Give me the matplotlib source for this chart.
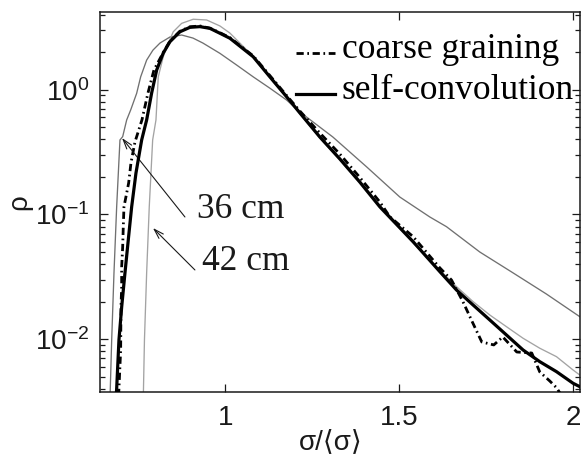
import numpy as np
import matplotlib
matplotlib.use("Agg")
import matplotlib.pyplot as plt
from matplotlib.legend_handler import HandlerLine2D

# ---------------- data ----------------
# 36 cm measurement (dark grey)
A_x = [0.6687, 0.6736, 0.6802, 0.6879, 0.6974, 0.7052, 0.7167, 0.7282, 0.7454, 0.7569,
       0.7741, 0.7922, 0.8124, 0.8411, 0.8747, 0.9072, 0.9359, 0.9848, 1.0328, 1.0805,
       1.1284, 1.1764, 1.2147, 1.3095, 1.4072, 1.5020, 1.5882, 1.6362, 1.7319, 1.8276,
       1.9236, 2.0193, 2.03]
A_y = [0.0033, 0.00986, 0.0340, 0.115, 0.396, 0.421, 0.573, 0.689, 0.937, 1.27,
       1.73, 2.08, 2.37, 2.65, 2.75, 2.60, 2.37, 1.96, 1.58, 1.27,
       1.03, 0.828, 0.664, 0.418, 0.240, 0.138, 0.0955, 0.0798, 0.0500, 0.0340,
       0.0230, 0.01515, 0.0148]

# 42 cm measurement (light grey)
B_x = [0.7644, 0.7678, 0.7741, 0.7816, 0.7914, 0.8009, 0.8075, 0.8218, 0.8362, 0.8506,
       0.8747, 0.9080, 0.9466, 0.9848, 1.0135, 1.0566, 1.0805, 1.1284, 1.1764, 1.2147,
       1.2721, 1.3296, 1.3871, 1.4445, 1.5402, 1.6170, 1.6649, 1.7126, 1.7606, 1.8086,
       1.8563, 1.9043, 1.9523, 2.0000, 2.0193, 2.03]
B_y = [0.0033, 0.00986, 0.0340, 0.115, 0.396, 0.573, 1.27, 1.84, 2.36, 2.92,
       3.41, 3.68, 3.63, 3.25, 2.85, 2.16, 1.82, 1.25, 0.87, 0.64,
       0.41, 0.272, 0.177, 0.112, 0.059, 0.0359, 0.0264, 0.0200, 0.01563, 0.01259,
       0.01017, 0.00846, 0.00724, 0.00566, 0.00516, 0.0050]

# coarse graining (dash-dot)
C_x = [0.6935, 0.6994, 0.7003, 0.7023, 0.7023, 0.7052, 0.7069, 0.7089, 0.7224, 0.7290,
       0.7405, 0.7606, 0.7779, 0.7951, 0.8218, 0.8411, 0.8698, 0.8986, 0.9273, 0.9560,
       0.9848, 1.0135, 1.0805, 1.1284, 1.1764, 1.2147, 1.2721, 1.3296, 1.3871, 1.4445,
       1.4730, 1.5402, 1.6170, 1.6506, 1.6830, 1.7118, 1.7376, 1.7721, 1.7980, 1.8382,
       1.8813, 1.9043, 1.9330, 1.9532, 1.9675]
C_y = [0.0035, 0.0082, 0.0181, 0.0262, 0.0379, 0.0549, 0.0794, 0.115, 0.179, 0.259,
       0.381, 0.573, 0.943, 1.44, 1.99, 2.46, 2.95, 3.20, 3.25, 3.12,
       2.87, 2.62, 1.87, 1.30, 0.90, 0.675, 0.450, 0.305, 0.198, 0.126,
       0.096, 0.0664, 0.0373, 0.0298, 0.0201, 0.01349, 0.00950, 0.00899, 0.01042, 0.00789,
       0.00774, 0.00546, 0.00462, 0.00406, 0.0035]

# self-convolution (thick solid)
D_x = [0.686, 0.688, 0.6945, 0.7023, 0.7118, 0.7213, 0.7310, 0.7434, 0.7598, 0.7741,
       0.7885, 0.8029, 0.8218, 0.8411, 0.8698, 0.8986, 0.9273, 0.9560, 0.9848, 1.0135,
       1.0805, 1.1284, 1.1764, 1.2147, 1.2721, 1.3296, 1.3871, 1.4445, 1.5402, 1.6170,
       1.6649, 1.7126, 1.7606, 1.8086, 1.8563, 1.9043, 1.9523, 2.0000, 2.0193, 2.03]
D_y = [0.0033, 0.00406, 0.00986, 0.0181, 0.0340, 0.0625, 0.115, 0.215, 0.396, 0.573,
       0.943, 1.44, 1.97, 2.43, 2.92, 3.17, 3.21, 3.11, 2.84, 2.59,
       1.84, 1.27, 0.880, 0.652, 0.418, 0.279, 0.182, 0.1155, 0.0605, 0.0348,
       0.0248, 0.0188, 0.01426, 0.0108, 0.00819, 0.0066, 0.00549, 0.00443, 0.00416, 0.0040]

legend_labels = ["coarse graining", "self-convolution"]
annot_labels = ["36 cm", "42 cm"]
annot_text_xy = [(0.9178, 0.0933), (0.9322, 0.0359)]
annot_tail_xy = [(0.8842, 0.0955), (0.9129, 0.0359)]
annot_tip_xy = [(0.7032, 0.4107), (0.7922, 0.0779)]
x_ticks = [1, 1.5, 2]
x_ticklabels = ["1", "1.5", "2"]

# ---------------- style ----------------
plt.rcParams['font.family'] = ['Liberation Sans', 'DejaVu Sans']
plt.rcParams['mathtext.fontset'] = 'custom'
plt.rcParams['mathtext.rm'] = 'Liberation Sans'
plt.rcParams['mathtext.it'] = 'Liberation Sans:italic'
plt.rcParams['mathtext.default'] = 'regular'

fig = plt.figure(figsize=(5.81, 4.55), dpi=100)
ax = fig.add_axes([100/581, 1 - 391.7/455, 480/581, 380/455])

ax.plot(A_x, A_y, color='#707070', lw=0.95, zorder=2)
ax.plot(B_x, B_y, color='#a3a3a3', lw=0.95, zorder=2)
lc, = ax.plot(C_x, C_y, color='black', lw=2.0, linestyle=(0, (2.6, 1.3, 0.6, 1.3)),
              zorder=3, label=legend_labels[0])
ld, = ax.plot(D_x, D_y, color='black', lw=2.3, zorder=4, label=legend_labels[1])

ax.set_yscale('log')
ax.set_xlim(0.64, 2.02)
ax.set_ylim(0.00379, 4.23)
ax.set_xticks(x_ticks)
ax.set_xticklabels(x_ticklabels)
ax.xaxis.set_minor_locator(matplotlib.ticker.NullLocator())

ax.tick_params(which='both', direction='in', top=True, right=True,
               labelsize=20, width=0.9, colors='#1a1a1a', labelcolor='#1a1a1a')
ax.tick_params(axis='x', pad=9.5)
ax.tick_params(axis='y', pad=8)
ax.tick_params(which='major', length=6)
ax.tick_params(which='minor', length=3.5)
for s in ax.spines.values():
    s.set_linewidth(1.1)
    s.set_color('#1a1a1a')

ax.set_xlabel('σ/⟨σ⟩', fontsize=20, color='#1a1a1a')
ax.xaxis.set_label_coords(0.481, -0.098)
ax.set_ylabel('ρ', fontsize=20, color='#1a1a1a')
ax.yaxis.set_label_coords(-0.142, 0.5)

serif = ['Liberation Serif', 'DejaVu Serif']


class LowHandler(HandlerLine2D):
    def create_artists(self, legend, orig_handle, xdescent, ydescent, width, height,
                       fontsize, trans):
        arts = super().create_artists(legend, orig_handle, xdescent, ydescent, width,
                                      height, fontsize, trans)
        for a in arts:
            a.set_ydata(np.asarray(a.get_ydata()) - 0.3 * height)
        return arts


leg = ax.legend(handles=[lc, ld], loc='upper right', bbox_to_anchor=(0.9875, 0.945),
                frameon=False, prop={'family': serif, 'size': 25.5},
                handlelength=1.1, handletextpad=0.2, labelspacing=0.23,
                borderpad=0.0, borderaxespad=0.0,
                handler_map={lc: LowHandler(), ld: LowHandler()})

for lab, txy, tail, tip in zip(annot_labels, annot_text_xy, annot_tail_xy, annot_tip_xy):
    ax.text(txy[0], txy[1], lab, family=serif, fontsize=25.5, ha='left',
            va='baseline', color='#1a1a1a')
    ax.annotate('', xy=tip, xytext=tail,
                arrowprops=dict(arrowstyle='->,head_length=0.7,head_width=0.22',
                                lw=0.8, color='#1a1a1a', shrinkA=0, shrinkB=0))

fig.savefig('out.png', dpi=100)
